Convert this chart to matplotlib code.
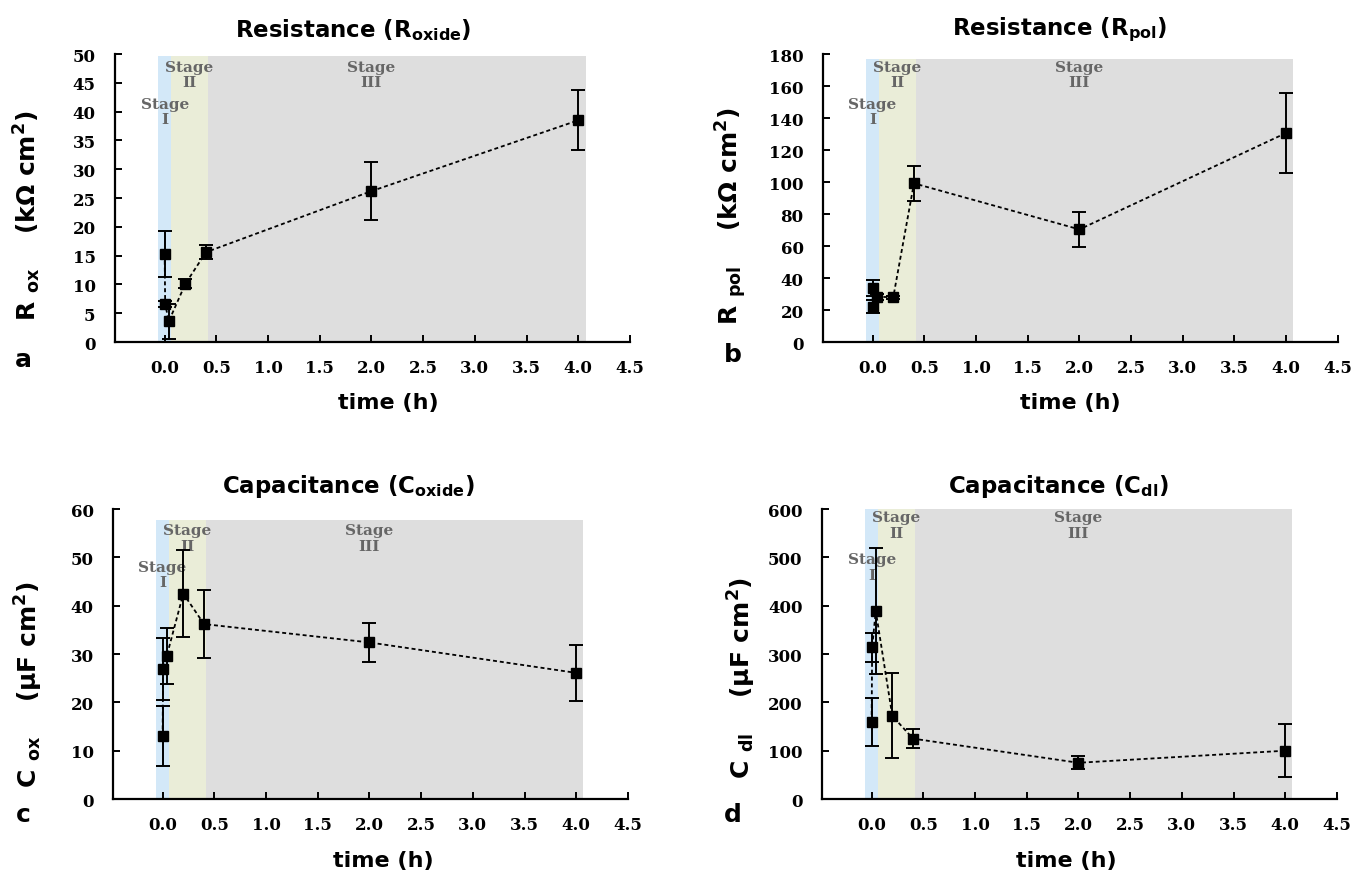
import matplotlib

matplotlib.use("Agg")
import matplotlib.pyplot as plt  # noqa: E402
import matplotlib.transforms as mtransforms  # noqa: E402

plt.rcParams["mathtext.fontset"] = "dejavusans"
plt.rcParams["mathtext.default"] = "bf"

# sampling times (h)
time_h = [0.0, 0.005, 0.04, 0.2, 0.4, 2.0, 4.0]

r_ox = [15.3, 6.6, 3.6, 10.1, 15.6, 26.2, 38.5]
r_ox_err = [4.0, 0.6, 3.0, 0.8, 1.2, 5.0, 5.2]

r_pol = [22.1, 33.6, 28.3, 28.0, 99.2, 70.4, 130.7]
r_pol_err = [4.0, 5.0, 2.0, 1.0, 10.8, 10.9, 25.2]

c_ox = [13.0, 26.9, 29.6, 42.5, 36.2, 32.4, 26.1]
c_ox_err = [6.2, 6.4, 5.7, 9.0, 7.0, 4.0, 5.8]

c_dl = [160, 314, 389, 172, 125, 75, 100]
c_dl_err = [50, 30, 131, 88, 19, 13, 55]

stage_bounds = [-0.06, 0.06, 0.42, 4.07]
stage_colors = ["#d3e8f8", "#eaedd8", "#dedede"]
stage_names = ["Stage\nI", "Stage\nII", "Stage\nIII"]
stage_text_x = [0.0, 0.24, 2.0]

xticks = [0.0, 0.5, 1.0, 1.5, 2.0, 2.5, 3.0, 3.5, 4.0, 4.5]

panels = [
    dict(y=r_ox, err=r_ox_err, ymax=50, ystep=5, shade_top=49.6,
         title="Resistance (R$_{oxide}$)",
         ylabel="R $_{ox}$    (kΩ cm$^{2}$)", letter="a",
         rect=[0.0847, 0.6093, 0.3792, 0.328], stage_y=[0.80, 0.93, 0.93],
         title_xy=(353, 30), xlab=(0.53, -0.175), ylab=(-0.140, 0.44), letter_xy=(23, 360)),
    dict(y=r_pol, err=r_pol_err, ymax=180, ystep=20, shade_top=177,
         title="Resistance (R$_{pol}$)",
         ylabel="R $_{pol}$    (kΩ cm$^{2}$)", letter="b",
         rect=[0.606, 0.6093, 0.3792, 0.328], stage_y=[0.80, 0.93, 0.93],
         title_xy=(1060, 30), xlab=(0.48, -0.175), ylab=(-0.144, 0.44), letter_xy=(733, 355)),
    dict(y=c_ox, err=c_ox_err, ymax=60, ystep=10, shade_top=57.8,
         title="Capacitance (C$_{oxide}$)",
         ylabel="C $_{ox}$    (µF cm$^{2}$)", letter="c",
         rect=[0.0832, 0.0888, 0.3792, 0.3303], stage_y=[0.775, 0.90, 0.90],
         title_xy=(348, 487), xlab=(0.525, -0.175), ylab=(-0.132, 0.40), letter_xy=(23, 815)),
    dict(y=c_dl, err=c_dl_err, ymax=600, ystep=100, shade_top=600,
         title="Capacitance (C$_{dl}$)",
         ylabel="C $_{dl}$    (µF cm$^{2}$)", letter="d",
         rect=[0.6053, 0.0888, 0.3792, 0.3303], stage_y=[0.80, 0.945, 0.945],
         title_xy=(1058, 487), xlab=(0.475, -0.175), ylab=(-0.124, 0.42), letter_xy=(733, 815)),
]

W, H = 1358, 878
fig = plt.figure(figsize=(W / 100, H / 100), dpi=100)

for p in panels:
    ax = fig.add_axes(p["rect"])
    for i in range(3):
        ax.fill_between([stage_bounds[i], stage_bounds[i + 1]], 0, p["shade_top"],
                        color=stage_colors[i], lw=0, zorder=0)
    trans = mtransforms.blended_transform_factory(ax.transData, ax.transAxes)
    for name, sx, sy in zip(stage_names, stage_text_x, p["stage_y"]):
        ax.text(sx, sy, name, transform=trans, ha="center", va="center",
                family="DejaVu Serif", fontweight="bold", fontsize=11,
                color="#666666", linespacing=1.1, zorder=1)

    ax.errorbar(time_h, p["y"], yerr=p["err"], color="black", ecolor="black",
                elinewidth=1.4, capsize=5, capthick=1.4, marker="s", markersize=7,
                linestyle=(0, (2.2, 1.6)), linewidth=1.3, zorder=3)

    ax.set_xlim(-0.48, 4.5)
    ax.set_ylim(0, p["ymax"])
    ax.set_xticks(xticks)
    ax.set_xticklabels([f"{v:.1f}" for v in xticks])
    ax.set_yticks(list(range(0, p["ymax"] + 1, p["ystep"])))
    for side in ("top", "right"):
        ax.spines[side].set_visible(False)
    for side in ("left", "bottom"):
        ax.spines[side].set_linewidth(1.6)
    ax.tick_params(direction="in", length=5, width=1.4, pad=12)
    for lab in ax.get_xticklabels() + ax.get_yticklabels():
        lab.set_family("DejaVu Serif")
        lab.set_fontweight("bold")
        lab.set_fontsize(12)
    ax.tick_params(axis="y", pad=14)

    ax.set_xlabel("time (h)", fontsize=16, fontweight="bold")
    ax.xaxis.set_label_coords(*p["xlab"])
    ax.set_ylabel(p["ylabel"], fontsize=18, fontweight="bold")
    ax.yaxis.set_label_coords(*p["ylab"])

    fig.text(p["title_xy"][0] / W, 1 - p["title_xy"][1] / H, p["title"],
             ha="center", va="center", fontsize=16.5, fontweight="bold")
    fig.text(p["letter_xy"][0] / W, 1 - p["letter_xy"][1] / H, p["letter"],
             ha="center", va="center", fontsize=18, fontweight="bold")

fig.savefig("out.png", dpi=100)
plt.close(fig)
